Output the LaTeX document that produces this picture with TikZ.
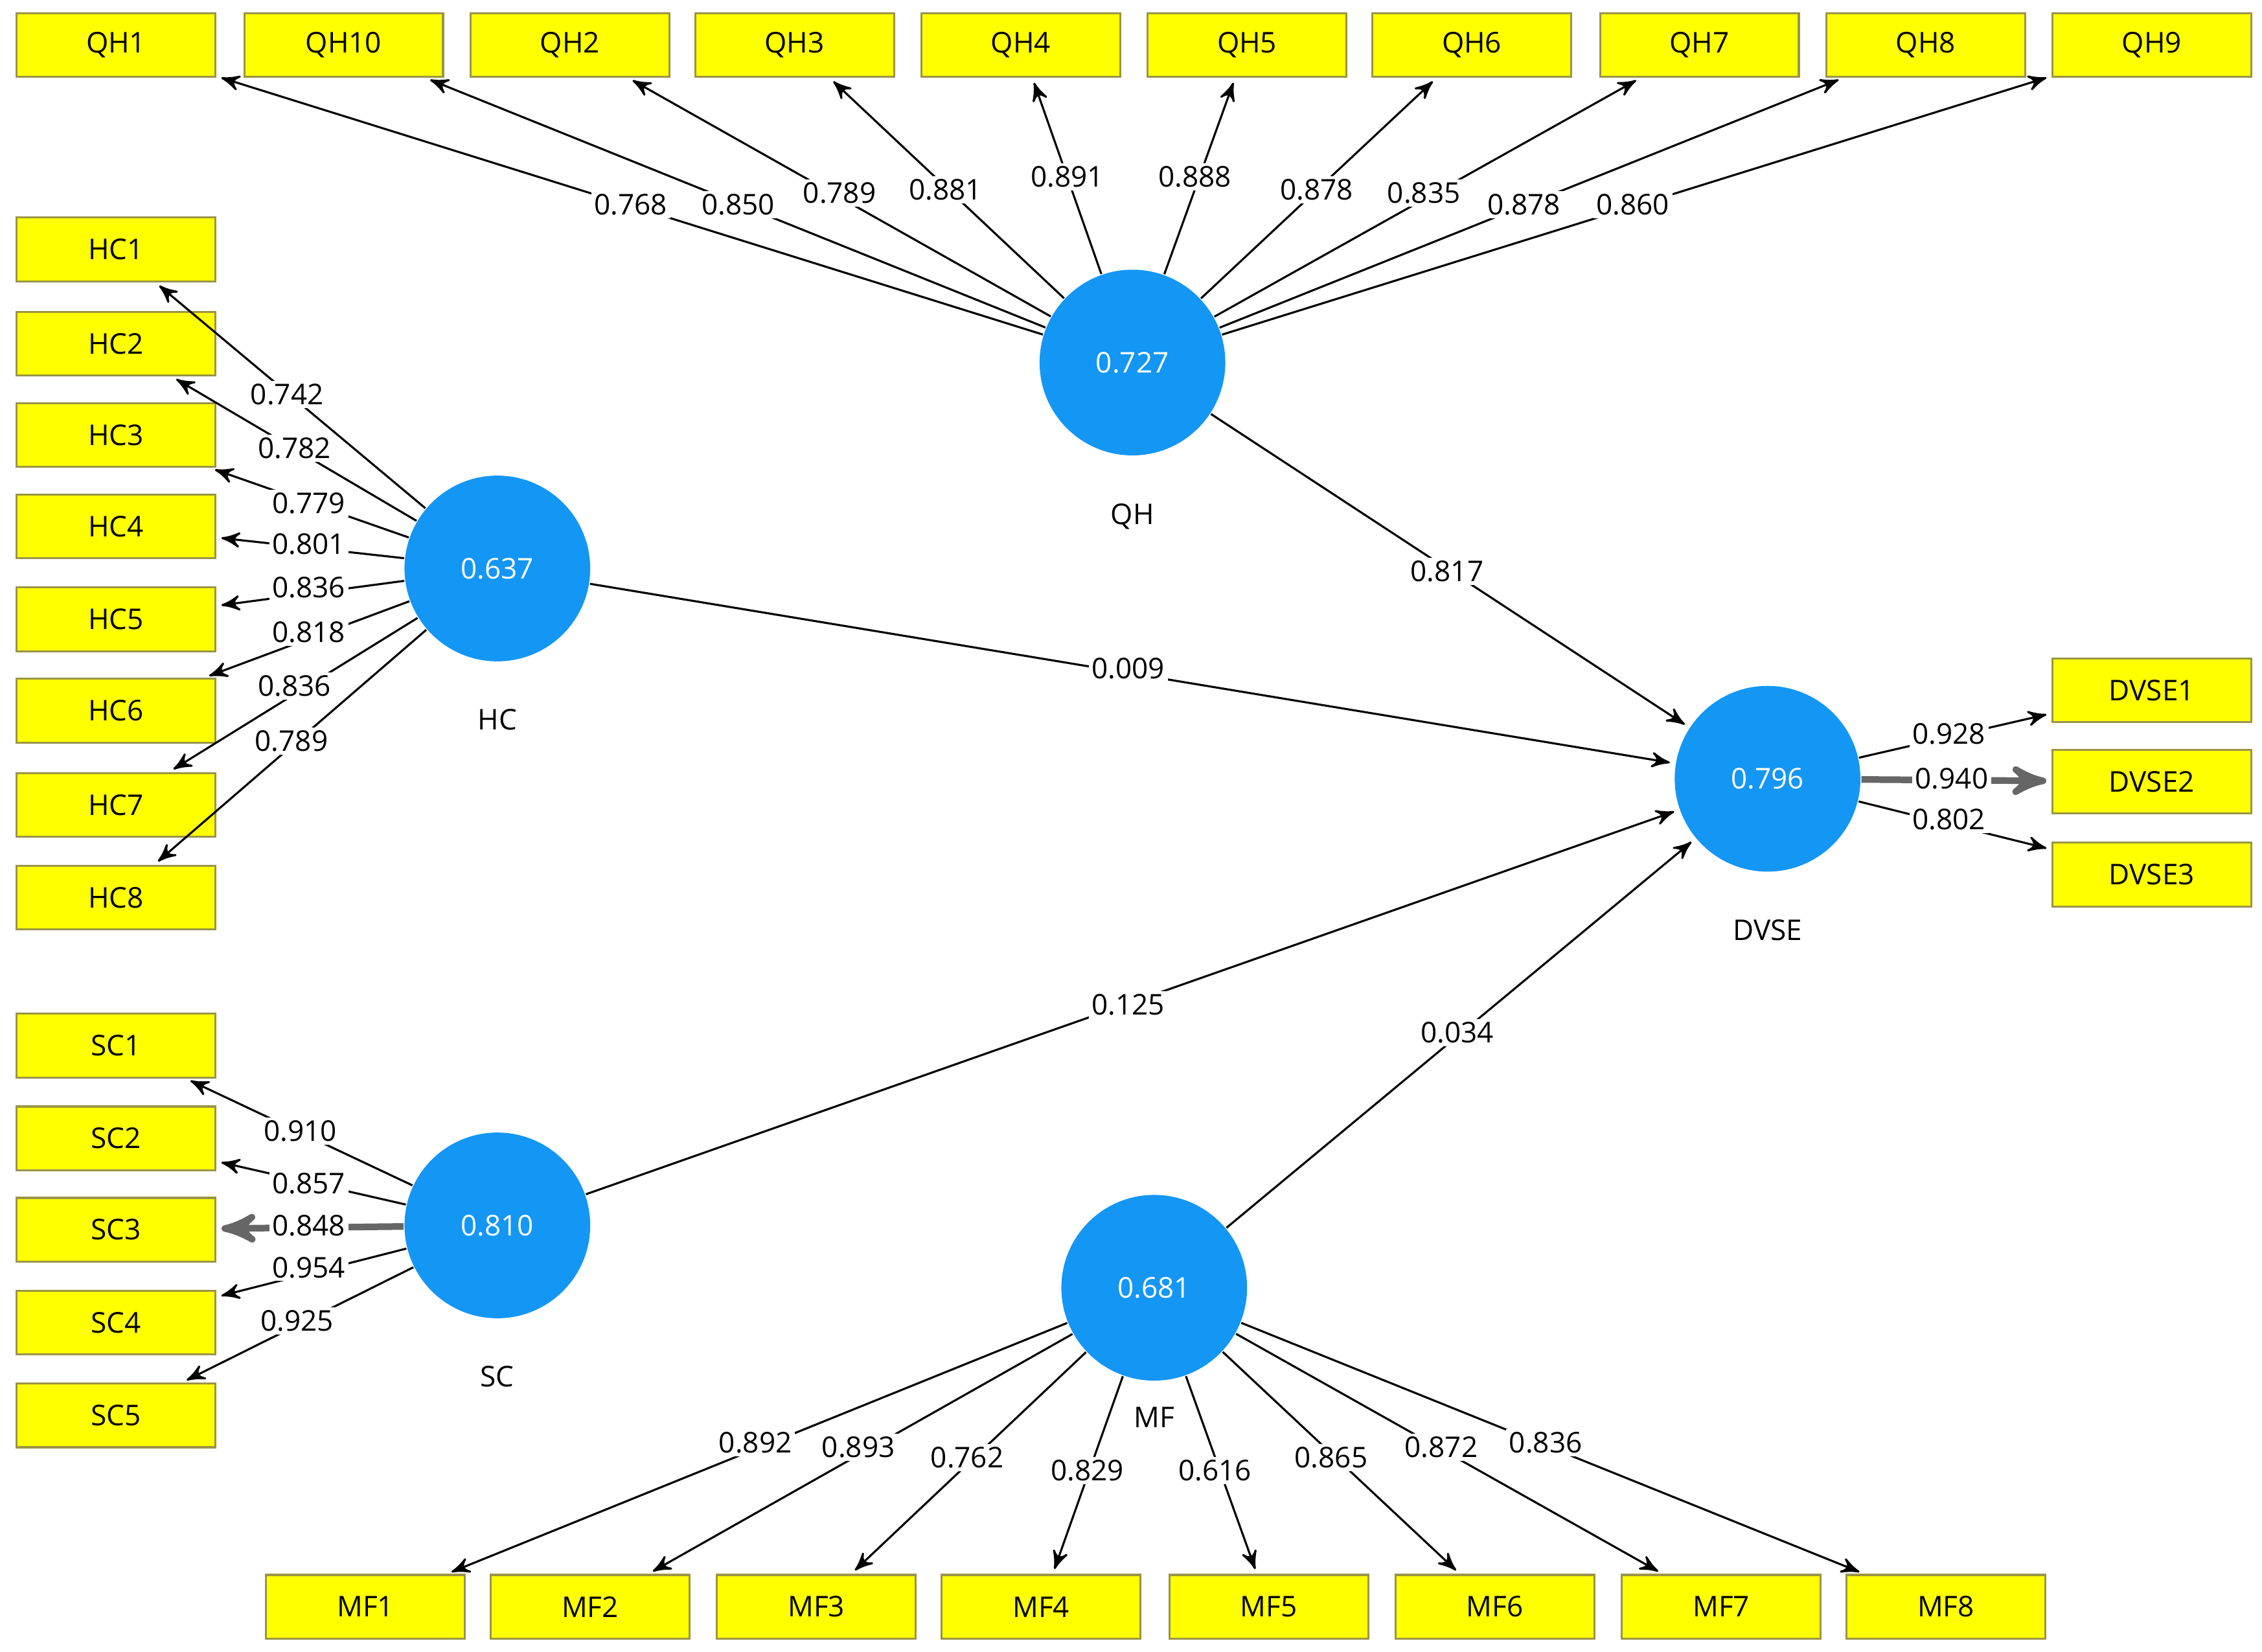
\documentclass[tikz,border=0pt]{standalone}
\usepackage{fontspec}
\setmainfont{Open Sans}
\usetikzlibrary{arrows,positioning}
\definecolor{lvblue}{RGB}{20,150,245}
\definecolor{mvyellow}{RGB}{255,255,0}
\begin{document}
\begin{tikzpicture}[x=0.01cm,y=-0.01cm,>=stealth',
		font=\fontsize{5.6}{6.5}\selectfont,
		ind node/.style={rectangle,draw=yellow!55!black,fill=mvyellow,minimum width=1.37cm,minimum height=0.44cm,inner sep=0pt},
		lv node/.style={circle,fill=lvblue,text=white,minimum size=1.28cm,inner sep=0pt},
		load/.style={->,thin,shorten >=1pt},
		heavy/.style={->,line width=1.3pt,draw=black!60,shorten >=1pt},
		val/.style={fill=white,inner sep=0.6pt}]
	\useasboundingbox (0,0) rectangle (1560,1139);
	
	% latent variables
	\node[lv node] (QH) at (781,250) {0.727};
	\node[lv node] (HC) at (343,392) {0.637};
	\node[lv node] (DVSE) at (1219,537) {0.796};
	\node[lv node] (SC) at (343,845) {0.810};
	\node[lv node] (MF) at (796,888) {0.681};
	\node[below=0.2cm of QH] {QH};
	\node[below=0.2cm of HC] {HC};
	\node[below=0.2cm of DVSE] {DVSE};
	\node[below=0.2cm of SC] {SC};
	\node[below=0.05cm of MF] {MF};
	
	% indicators
	\foreach \n/\x in {QH1/80,QH10/237,QH2/393,QH3/548,QH4/704,QH5/860,QH6/1015,QH7/1172,QH8/1328,QH9/1484}
		\node[ind node] (\n) at (\x,31) {\n};
	\foreach \n/\y in {HC1/172,HC2/237,HC3/300,HC4/363,HC5/427,HC6/490,HC7/555,HC8/619}
		\node[ind node] (\n) at (80,\y) {\n};
	\foreach \n/\y in {SC1/721,SC2/785,SC3/848,SC4/912,SC5/976}
		\node[ind node] (\n) at (80,\y) {\n};
	\foreach \n/\y in {DVSE1/476,DVSE2/539,DVSE3/603}
		\node[ind node] (\n) at (1484,\y) {\n};
	\foreach \n/\x in {MF1/252,MF2/407,MF3/563,MF4/718,MF5/875,MF6/1031,MF7/1187,MF8/1342}
		\node[ind node] (\n) at (\x,1108) {\n};
	
	% outer loadings
	\foreach \n in {QH1,QH10,QH2,QH3,QH4,QH5,QH6,QH7,QH8,QH9}
		\draw[load] (QH) -- (\n);
	\foreach \n in {HC1,HC2,HC3,HC4,HC5,HC6,HC7,HC8}
		\draw[load] (HC) -- (\n);
	\foreach \n in {SC1,SC2,SC4,SC5}
		\draw[load] (SC) -- (\n);
	\draw[heavy] (SC) -- (SC3);
	\draw[load] (DVSE) -- (DVSE1);
	\draw[heavy] (DVSE) -- (DVSE2);
	\draw[load] (DVSE) -- (DVSE3);
	\foreach \n in {MF1,MF2,MF3,MF4,MF5,MF6,MF7,MF8}
		\draw[load] (MF) -- (\n);
	
	% paths
	\draw[load] (QH) -- (DVSE);
	\draw[load] (HC) -- (DVSE);
	\draw[load] (SC) -- (DVSE);
	\draw[load] (MF) -- (DVSE);
	
	% values
	\foreach \v/\x/\y in {0.768/435/141,0.850/509/141,0.789/579/133,0.881/652/131,0.891/736/122,
		0.888/824/122,0.878/908/131,0.835/982/133,0.878/1051/141,0.860/1126/141,
		0.742/198/272,0.782/203/309,0.779/213/347,0.801/213/375,0.836/213/405,0.818/213/436,
		0.836/203/473,0.789/201/511,
		0.910/207/780,0.857/213/816,0.848/213/845,0.954/213/874,0.925/205/911,
		0.928/1344/506,0.940/1346/537,0.802/1344/565,
		0.892/521/995,0.893/592/998,0.762/667/1005,0.829/750/1014,0.616/838/1014,
		0.865/918/1005,0.872/994/998,0.836/1066/995,
		0.817/998/394,0.009/778/461,0.125/778/693,0.034/1005/712}
		\node[val] at (\x,\y) {\v};
\end{tikzpicture}
\end{document}
